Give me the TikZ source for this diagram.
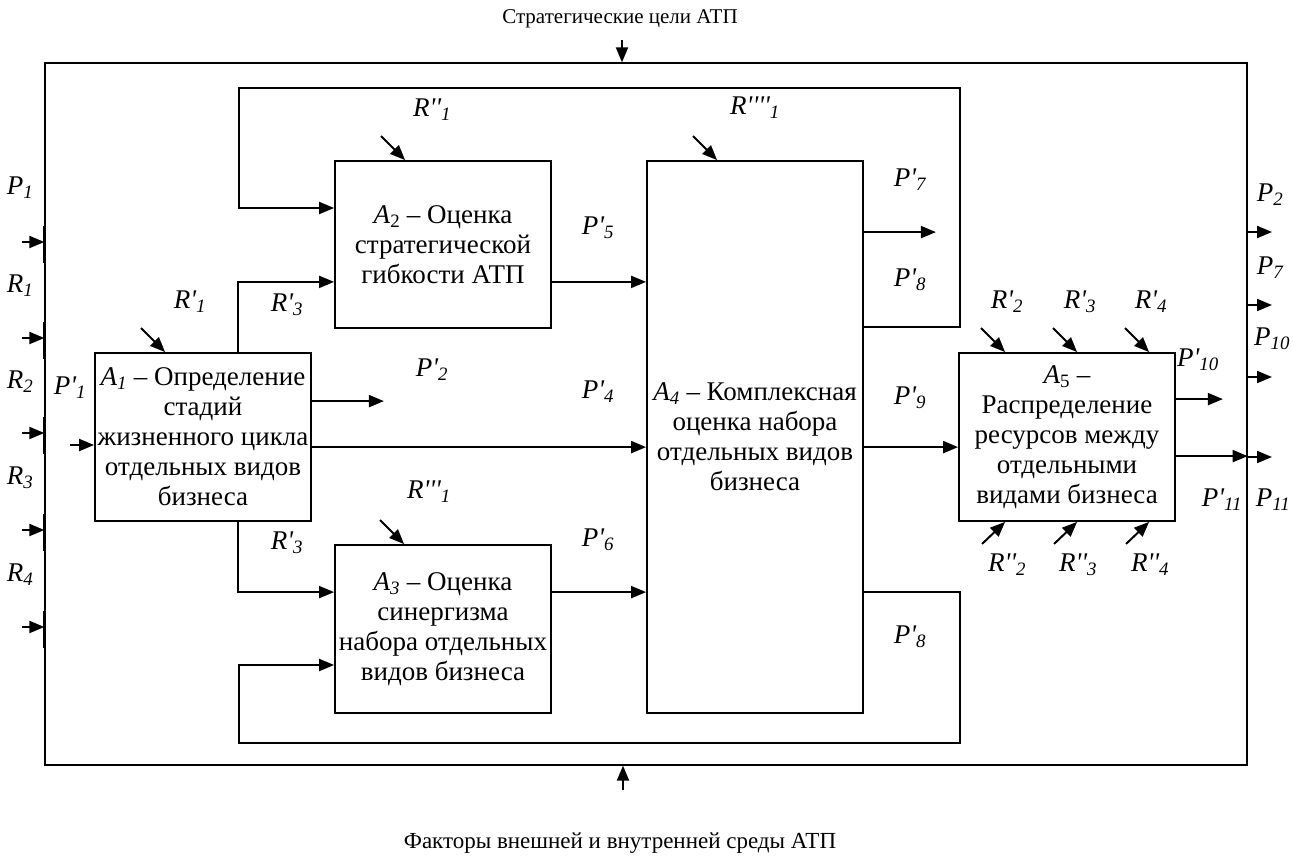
\documentclass[tikz,border=0pt]{standalone}
\usepackage{fontspec}
\setmainfont{Liberation Serif}[Ligatures=TeXOff]
\usetikzlibrary{arrows.meta,calc}
\begin{document}
\begin{tikzpicture}[x=1pt,y=-1pt,
  box/.style={draw,line width=1.8pt,inner sep=0pt,align=center,
    minimum width=216pt,font=\fontsize{27}{30}\selectfont},
  lab/.style={font=\fontsize{27}{30}\selectfont\itshape,inner sep=0pt},
  ttl/.style={font=\fontsize{21}{26}\selectfont,inner sep=0pt},
  arr/.style={line width=2pt,-{Triangle[length=15pt,width=12pt]}},
  frm/.style={draw,line width=1.3pt,inner sep=0pt},
  seg/.style={line width=2.6pt}]
\useasboundingbox (0,0) rectangle (1293,860);

% frame
\node[frm,minimum width=1202pt,minimum height=702pt] (F) at (646,414) {};

% boxes
\node[box,minimum height=168pt] (A1) at (203,437)
  {\textit{A\textsubscript{1}} – Определение\\стадий\\жизненного цикла\\отдельных видов\\бизнеса};
\node[box,minimum height=167pt] (A2) at (443,244.5)
  {\textit{A}\textsubscript{2} – Оценка\\стратегической\\гибкости АТП};
\node[box,minimum height=168pt] (A3) at (443,629)
  {\textit{A\textsubscript{3}} – Оценка\\синергизма\\набора отдельных\\видов бизнеса};
\node[box,minimum height=552pt] (A4) at (755,437)
  {\textit{A\textsubscript{4}} – Комплексная\\оценка набора\\отдельных видов\\бизнеса};
\node[box,minimum height=168pt] (A5) at (1067,437)
  {\textit{A}\textsubscript{5} –\\Распределение\\ресурсов между\\отдельными\\видами бизнеса};

% titles
\node[ttl] (ttop) at (620,19) {Стратегические цели АТП};
\node[ttl,font=\fontsize{23}{26}\selectfont] (tbot) at (620,843) {Факторы внешней и внутренней среды АТП};

% top / bottom arrows
\coordinate (tin) at (622,40);
\draw[arr] (tin) -- (tin |- F.north);
\coordinate (bin) at (623,790);
\draw[arr] (bin) -- (bin |- F.south);

% left inputs
\foreach \n/\y in {1/242,2/338,3/433,4/530,5/627}{
  \coordinate (l\n) at (22,\y);
  \draw[arr] (l\n) -- (l\n -| F.west);
  \draw[seg] ($(l\n -| F.west)+(0,-16)$) -- ($(l\n -| F.west)+(0,21)$);
}
\node[lab] (lP1) at (20,188) {P\textsubscript{1}};
\node[lab] (lR1) at (20,286) {R\textsubscript{1}};
\node[lab] (lR2) at (20,382) {R\textsubscript{2}};
\node[lab] (lR3) at (20,478) {R\textsubscript{3}};
\node[lab] (lR4) at (20,575) {R\textsubscript{4}};

% P'1 into A1
\coordinate (p1) at (70,445);
\draw[arr] (p1) -- (p1 -| A1.west);
\node[lab] (lPp1) at (70,388) {P'\textsubscript{1}};

% diagonal control arrows (from above)
\coordinate (eA1) at ($(A1.north west)+(71,0)$);
\coordinate (eA2) at ($(A2.north west)+(71,0)$);
\coordinate (eA3) at ($(A3.north west)+(70,0)$);
\coordinate (eA4) at ($(A4.north west)+(71,0)$);
\coordinate (eA5a) at ($(A5.north west)+(47,0)$);
\coordinate (eA5b) at ($(A5.north west)+(119,0)$);
\coordinate (eA5c) at ($(A5.north west)+(191,0)$);
\foreach \e in {eA1,eA2,eA3,eA4,eA5a,eA5b,eA5c}{
  \draw[arr] ($(\e)+(-24,-24)$) -- (\e);
}
% diagonal arrows from below into A5
\coordinate (fA5a) at ($(A5.south west)+(47,0)$);
\coordinate (fA5b) at ($(A5.south west)+(119,0)$);
\coordinate (fA5c) at ($(A5.south west)+(191,0)$);
\foreach \e in {fA5a,fA5b,fA5c}{
  \draw[arr] ($(\e)+(-23,22)$) -- (\e);
}

\node[lab] (lRp1) at (190,302) {R'\textsubscript{1}};
\node[lab] (lRpp1) at (432,110) {R''\textsubscript{1}};
\node[lab] (lRpppp1) at (755,108) {R''''\textsubscript{1}};
\node[lab] (lRppp1) at (429,492) {R'''\textsubscript{1}};
\node[lab] (lRp2) at (1007,302) {R'\textsubscript{2}};
\node[lab] (lRp3b) at (1080,302) {R'\textsubscript{3}};
\node[lab] (lRp4) at (1151,302) {R'\textsubscript{4}};
\node[lab] (lRpp2) at (1007,565) {R''\textsubscript{2}};
\node[lab] (lRpp3) at (1078,565) {R''\textsubscript{3}};
\node[lab] (lRpp4) at (1150,565) {R''\textsubscript{4}};

% A1 -> A2, A1 -> A3
\coordinate (a12) at ($(A2.south west)+(0,-47)$);
\draw[arr] ($(A1.north west)+(144,0)$) |- (a12);
\coordinate (a13) at ($(A3.north west)+(0,48)$);
\draw[arr] ($(A1.south west)+(144,0)$) |- (a13);
\node[lab] (lRp3u) at (287,305) {R'\textsubscript{3}};
\node[lab] (lRp3d) at (287,543) {R'\textsubscript{3}};

% A1 outputs
\coordinate (a1p) at ($(A1.north east)+(0,49)$);
\draw[arr] (a1p) -- ++(72,0) coordinate (p2e);
\coordinate (a1o) at ($(A1.north east)+(0,95)$);
\draw[arr] (a1o) -- (a1o -| A4.west);
\node[lab] (lPp2) at (432,370) {P'\textsubscript{2}};
\node[lab] (lPp4) at (598,392) {P'\textsubscript{4}};

% A2 -> A4, A3 -> A4
\coordinate (a2o) at ($(A2.south east)+(0,-47)$);
\draw[arr] (a2o) -- (a2o -| A4.west);
\coordinate (a3o) at ($(A3.north east)+(0,48)$);
\draw[arr] (a3o) -- (a3o -| A4.west);
\node[lab] (lPp5) at (598,228) {P'\textsubscript{5}};
\node[lab] (lPp6) at (598,540) {P'\textsubscript{6}};

% A4 outputs
\coordinate (a4p7) at ($(A4.north east)+(0,72)$);
\draw[arr] (a4p7) -- ++(72,0) coordinate (p7e);
\coordinate (a4o) at ($(A4.north east)+(0,287)$);
\draw[arr] (a4o) -- (a4o -| A5.west);
\node[lab] (lPp7) at (910,180) {P'\textsubscript{7}};
\node[lab] (lPp8u) at (910,280) {P'\textsubscript{8}};
\node[lab] (lPp9) at (910,398) {P'\textsubscript{9}};
\node[lab] (lPp8d) at (910,637) {P'\textsubscript{8}};

% feedback loops
\coordinate (t0) at ($(A4.north east)+(0,167)$);
\coordinate (tc1) at (960,88);
\coordinate (tc2) at (239,208);
\draw[arr] (t0) -| (tc1) -| (tc2) -- (tc2 -| A2.west);
\coordinate (b0) at ($(A4.north east)+(0,432)$);
\coordinate (bc1) at (960,743);
\coordinate (bc2) at (239,665);
\draw[arr] (b0) -| (bc1) -| (bc2) -- (bc2 -| A3.west);

% A5 outputs
\coordinate (a5a) at ($(A5.north east)+(0,47)$);
\draw[arr] (a5a) -- ++(47,0) coordinate (p10e);
\coordinate (a5b) at ($(A5.north east)+(0,104)$);
\draw[arr] (a5b) -- (a5b -| F.east);
\node[lab] (lPp10) at (1198,360) {P'\textsubscript{10}};
\node[lab] (lPp11) at (1222,500) {P'\textsubscript{11}};

% right outputs
\foreach \n/\y in {1/232,2/305,3/377,4/457}{
  \coordinate (r\n) at (1272,\y);
  \draw[arr] (r\n -| F.east) -- (r\n);
}
\node[lab] (lP2) at (1270,195) {P\textsubscript{2}};
\node[lab] (lP7) at (1270,268) {P\textsubscript{7}};
\node[lab] (lP10) at (1272,339) {P\textsubscript{10}};
\node[lab] (lP11) at (1273,500) {P\textsubscript{11}};
\end{tikzpicture}
\end{document}
